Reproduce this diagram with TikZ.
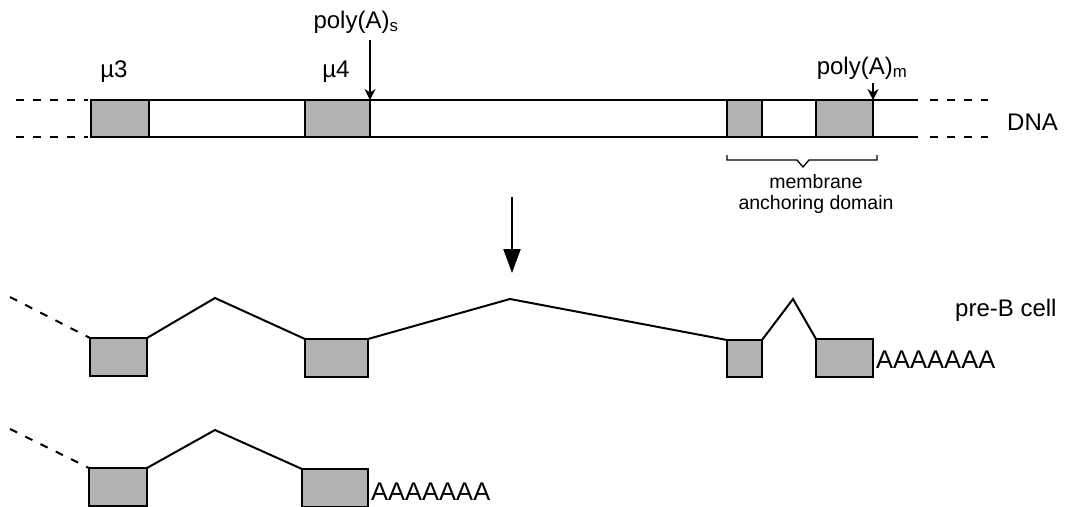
\documentclass[tikz,border=0pt]{standalone}
\usepackage{fontspec}
\setmainfont{Liberation Sans}
\usetikzlibrary{arrows.meta}
\begin{document}
\begin{tikzpicture}[x=1pt,y=-1pt,
  exon/.style={draw=black,line width=2.2pt,fill=black!30,inner sep=0pt,outer sep=0pt,anchor=north west},
  wire/.style={line width=2pt},
  dashwire/.style={line width=2pt,dash pattern=on 8pt off 9pt},
  lbl/.style={font=\fontsize{24}{27}\selectfont,inner sep=0pt},
  aaa/.style={font=\fontsize{25.5}{28}\selectfont,inner sep=0pt},
  small/.style={font=\fontsize{19.5}{21}\selectfont,inner sep=0pt,align=center},
  tinyarrow/.style={line width=2.2pt,-{Stealth[length=11pt,width=11pt]}},
  bigarrow/.style={line width=2.2pt,-{Triangle[length=24pt,width=17pt]}}]
\useasboundingbox (0,0) rectangle (1065,506);

% DNA strand
\coordinate (tl) at (90,100); \coordinate (tr) at (918,100);
\coordinate (bl) at (90,137); \coordinate (br) at (918,137);
\coordinate (tld) at (16,100); \coordinate (bld) at (16,137);
\coordinate (trd) at (930,100); \coordinate (brd) at (988,100);
\coordinate (trd2) at (930,137); \coordinate (brd2) at (988,137);
\draw[wire] (tl) -- (tr);
\draw[wire] (bl) -- (br);
\draw[dashwire] (tld) -- ([xshift=-2pt]tl);
\draw[dashwire] (bld) -- ([xshift=-2pt]bl);
\draw[dashwire] (trd) -- (brd);
\draw[dashwire] (trd2) -- (brd2);
\node[exon,minimum width=58pt,minimum height=37pt] (d1) at (91,100) {};
\node[exon,minimum width=65pt,minimum height=37pt] (d2) at (305,100) {};
\node[exon,minimum width=35pt,minimum height=37pt] (d3) at (727,100) {};
\node[exon,minimum width=57pt,minimum height=37pt] (d4) at (816,100) {};
\node[lbl,anchor=west] (dna) at (1007,122) {DNA};
\node[lbl] (mu3) at (114,72) {µ3};
\node[lbl] (mu4) at (336,72) {µ4};

% poly(A) arrows
\node[lbl] (pas) at (356,22) {poly(A)\textsubscript{s}};
\coordinate (pasA) at (370,40);
\draw[tinyarrow] (pasA) -- (pasA |- d2.north);
\node[lbl] (pam) at (862,68) {poly(A)\textsubscript{m}};
\coordinate (pamA) at (873,83);
\draw[tinyarrow] (pamA) -- (pamA |- d4.north);

% membrane anchoring brace
\coordinate (b1) at (727,155); \coordinate (b2) at (727,160);
\coordinate (b3) at (797,160); \coordinate (bt) at (803,167);
\coordinate (b4) at (809,160); \coordinate (b5) at (877,160);
\coordinate (b6) at (877,155);
\draw[line width=1.3pt] (b1) -- (b2) -- (b3) -- (bt) -- (b4) -- (b5) -- (b6);
\node[small,anchor=north] (mad) at (816,174) {membrane\\anchoring domain};

% big arrow
\coordinate (ba1) at (512,197); \coordinate (ba2) at (512,273);
\draw[bigarrow] (ba1) -- (ba2);

% pre-B cell row
\node[exon,minimum width=57pt,minimum height=38pt] (r1a) at (90,338) {};
\node[exon,minimum width=63pt,minimum height=38pt] (r1b) at (305,339) {};
\node[exon,minimum width=35pt,minimum height=37pt] (r1c) at (727,340) {};
\node[exon,minimum width=57pt,minimum height=38pt] (r1d) at (816,339) {};
\coordinate (p1) at (215,298);
\coordinate (p2) at (510,299);
\coordinate (p3) at (793,299);
\coordinate (s1) at (10,297);
\draw[dashwire] (s1) -- (r1a.north west);
\draw[wire] (r1a.north east) -- (p1) -- (r1b.north west);
\draw[wire] (r1b.north east) -- (p2) -- (r1c.north west);
\draw[wire] (r1c.north east) -- (p3) -- (r1d.north west);
\node[aaa,anchor=base west] (a1) at ([xshift=3pt,yshift=9pt]r1d.south east) {AAAAAAA};
\node[lbl,anchor=west] (preb) at (955,310) {pre-B cell};

% second row
\node[exon,minimum width=58pt,minimum height=38pt] (r2a) at (89,468) {};
\node[exon,minimum width=66pt,minimum height=38pt] (r2b) at (302,469) {};
\coordinate (q1) at (215,430);
\coordinate (s2) at (10,429);
\draw[dashwire] (s2) -- (r2a.north west);
\draw[wire] (r2a.north east) -- (q1) -- (r2b.north west);
\node[aaa,anchor=base west] (a2) at ([xshift=3pt,yshift=7pt]r2b.south east) {AAAAAAA};
\end{tikzpicture}
\end{document}
